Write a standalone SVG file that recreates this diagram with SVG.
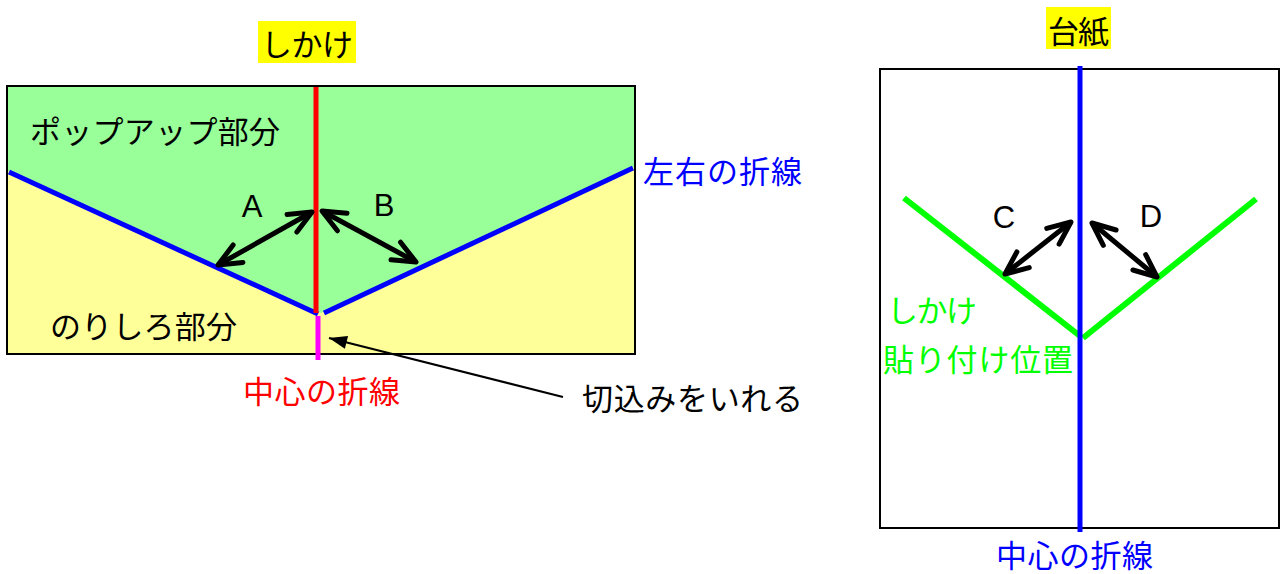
<svg xmlns="http://www.w3.org/2000/svg" width="1280" height="574" viewBox="0 0 1280 574">
<style>
.jp{font-family:"Noto Sans CJK JP","Noto Sans CJK SC",sans-serif;font-size:31px;}
.lat{font-family:"Liberation Sans",Arial,sans-serif;font-size:31px;fill:#000;text-anchor:middle;}
.dbl{stroke:#000;stroke-width:5;fill:none;marker-start:url(#vh);marker-end:url(#vh);}
</style>
<defs>
<marker id="vh" markerUnits="userSpaceOnUse" viewBox="-30 -15 36 30" markerWidth="36" markerHeight="30" refX="0" refY="0" orient="auto-start-reverse">
<path d="M-23,-10 L0,0 L-23,10" fill="none" stroke="#000" stroke-width="5" stroke-linecap="round" stroke-linejoin="round"/>
</marker>
<marker id="fh" markerUnits="userSpaceOnUse" viewBox="-20 -8 22 16" markerWidth="22" markerHeight="16" refX="0" refY="0" orient="auto">
<path d="M-18,-6.5 L0,0 L-18,6.5 Z" fill="#000"/>
</marker>
</defs>
<rect width="1280" height="574" fill="#fff"/>

<g id="shikake-title">
<rect x="258" y="21" width="98" height="42" fill="#ffff00"/>
<text class="jp" x="261" y="56" textLength="92" lengthAdjust="spacing" fill="#000">しかけ</text>
</g>

<g id="shikake-sheet">
<rect x="7" y="86" width="628" height="268" fill="#ffff99" stroke="#000" stroke-width="2"/>
<polygon points="8,87 634,87 634,167 321,313 8,171" fill="#99ff99"/>
<line x1="9" y1="172" x2="318" y2="314" stroke="#0000ff" stroke-width="5"/>
<line x1="324" y1="313" x2="633" y2="168" stroke="#0000ff" stroke-width="5"/>
<line x1="316" y1="87" x2="316" y2="313" stroke="#ff0000" stroke-width="5"/>
<line x1="318" y1="316" x2="318" y2="360" stroke="#ff00ff" stroke-width="5"/>
</g>

<g id="label-popup"><text class="jp" x="30" y="143" textLength="250" lengthAdjust="spacing" fill="#000">ポップアップ部分</text></g>
<g id="label-norishiro"><text class="jp" x="50" y="338" textLength="187" lengthAdjust="spacing" fill="#000">のりしろ部分</text></g>
<g id="label-center-red"><text class="jp" x="243" y="403" textLength="157" lengthAdjust="spacing" fill="#ff0000">中心の折線</text></g>
<g id="label-lr"><text class="jp" x="643" y="183" textLength="159" lengthAdjust="spacing" fill="#0000ff">左右の折線</text></g>
<g id="label-cut"><text class="jp" x="582" y="410" textLength="221" lengthAdjust="spacing" fill="#000">切込みをいれる</text></g>

<g id="label-A"><text class="lat" x="252" y="217">A</text></g>
<g id="label-B"><text class="lat" x="384" y="216">B</text></g>

<g id="daishi-title">
<rect x="1046" y="7" width="65" height="42" fill="#ffff00"/>
<text class="jp" x="1048" y="43" textLength="61" lengthAdjust="spacing" fill="#000">台紙</text>
</g>

<g id="daishi-sheet">
<rect x="880" y="69" width="399" height="459" fill="#fff" stroke="#000" stroke-width="2"/>
<line x1="904" y1="198" x2="1080" y2="336" stroke="#00ff00" stroke-width="6"/>
<line x1="1083" y1="338" x2="1256" y2="199" stroke="#00ff00" stroke-width="6"/>
<line x1="1080" y1="66" x2="1080" y2="532" stroke="#0000ff" stroke-width="5"/>
</g>

<g id="label-shikake-green"><text class="jp" x="887" y="322" textLength="90" lengthAdjust="spacing" fill="#00ff00">しかけ</text></g>
<g id="label-position"><text class="jp" x="883" y="371" textLength="190" lengthAdjust="spacing" fill="#00ff00">貼り付け位置</text></g>
<g id="label-center-blue"><text class="jp" x="996" y="567" textLength="157" lengthAdjust="spacing" fill="#0000ff">中心の折線</text></g>

<g id="label-C"><text class="lat" x="1004" y="228">C</text></g>
<g id="label-D"><text class="lat" x="1151" y="227">D</text></g>

<g id="connectors">
<line class="dbl" x1="218" y1="265" x2="312" y2="212"/>
<line class="dbl" x1="322" y1="211" x2="416" y2="262"/>
<line class="dbl" x1="1005" y1="274" x2="1071" y2="222"/>
<line class="dbl" x1="1092" y1="223" x2="1157" y2="277"/>
<line x1="563" y1="397" x2="329" y2="338" stroke="#000" stroke-width="2" marker-end="url(#fh)"/>
</g>
</svg>
